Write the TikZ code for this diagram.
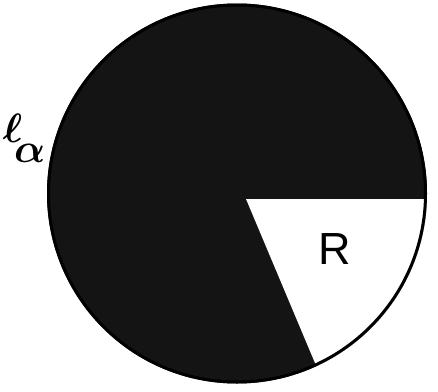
\documentclass[tikz,border=0pt]{standalone}
\usepackage{fontspec}
\setsansfont{Liberation Sans}
\begin{document}
\begin{tikzpicture}[x=1pt,y=-1pt]
        % Frame
        \useasboundingbox (0,0) rectangle (438,391);

        % Disc
        \coordinate (O) at (237,193.5);
        \fill[black!92] (O) circle (190pt);

        % Region R cut out of the disc
        \coordinate (A) at (246,199);
        \begin{scope}
            \clip (O) circle (190pt);
            \fill[white] (A) -- (450,199) -- (450,420) -- ({246+69*221/164},420) -- cycle;
        \end{scope}
        \draw[line width=3pt] (O) circle (188.5pt);

        % Labels
        \node[inner sep=0pt] (ell) at (24,138) {\scalebox{4.1}{\boldmath$\ell\kern-2pt\raisebox{-4.8pt}{$\alpha$}$}};
        \node[font=\sffamily\fontsize{45}{50}\selectfont, inner sep=0pt] (R) at (335,249) {R};
    \end{tikzpicture}
\end{document}
